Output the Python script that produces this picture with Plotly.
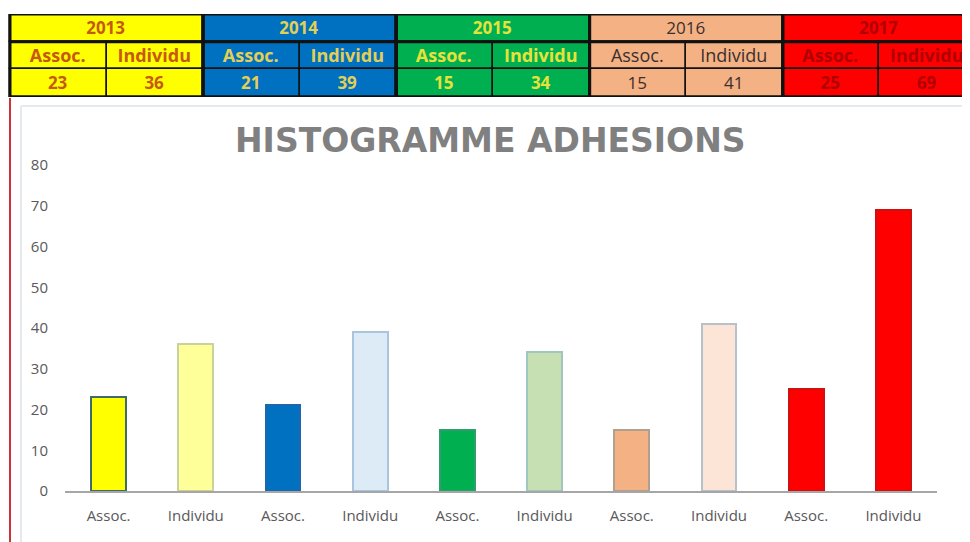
import plotly.graph_objects as go

# ---- data ----
years = ["2013", "2014", "2015", "2016", "2017"]
kinds = ["Assoc.", "Individu"]
assoc = [23, 21, 15, 15, 25]
individu = [36, 39, 34, 41, 69]
y_ticks = [0, 10, 20, 30, 40, 50, 60, 70, 80]

# styles
year_fill = ["#FFFF00", "#0070C0", "#00B050", "#F4B183", "#FF0000"]
year_text = ["#C65911", "#E3CF55", "#E6E23A", "#3B3030", "#B00000"]
year_weight = ["bold", "bold", "bold", "normal", "bold"]
bar_fill_assoc = ["#FFFF00", "#0070C0", "#00B050", "#F4B183", "#FF0000"]
bar_fill_ind = ["#FFFF99", "#DDEBF7", "#C6E0B4", "#FCE4D6", "#FF0000"]
bar_line_assoc = ["#3D6B66", "#1F66AA", "#2E9E6E", "#B0A090", "#D01010"]
bar_line_ind = ["#C9D29A", "#A9C4DE", "#9FC7BF", "#B8C0CC", "#D01010"]

W, H = 970, 542
OFF = 8  # page body margin
FONT = "Open Sans"


def px(xp):
    return (xp - OFF) / W


def py(yp):
    return (H - (yp - OFF)) / H


# interleave categories
values, labels, fills, lines = [], [], [], []
for i in range(len(years)):
    values += [assoc[i], individu[i]]
    labels += kinds
    fills += [bar_fill_assoc[i], bar_fill_ind[i]]
    lines += [bar_line_assoc[i], bar_line_ind[i]]
xpos = list(range(len(values)))

fig = go.Figure()

# ---- main bars ----
fig.add_trace(go.Bar(
    x=xpos, y=values, width=0.40,
    marker=dict(color=fills, line=dict(color=lines, width=2)),
    hoverinfo="x+y", showlegend=False,
))

# ---- table (built from bars on a second axis pair) ----
cell_fill = [year_fill[j // 2] for j in range(len(values))]
cell_text = [year_text[j // 2] for j in range(len(values))]
cell_weight = [year_weight[j // 2] for j in range(len(values))]

common = dict(xaxis="x2", yaxis="y2", textposition="inside", insidetextanchor="middle",
              constraintext="none", textangle=0, showlegend=False, hoverinfo="skip")

fig.add_trace(go.Bar(
    x=[2 * i + 1 for i in range(len(years))], y=[1] * len(years), base=[2] * len(years),
    width=[2] * len(years),
    marker=dict(color=year_fill, line=dict(color="#111111", width=1.5)),
    text=years, textfont=dict(family=FONT, size=17, color=year_text, weight=year_weight),
    **common,
))
fig.add_trace(go.Bar(
    x=[j + 0.5 for j in xpos], y=[1] * len(values), base=[1] * len(values),
    width=[1] * len(values),
    marker=dict(color=cell_fill, line=dict(color="#111111", width=1.5)),
    text=labels, textfont=dict(family=FONT, size=18, color=cell_text, weight=cell_weight),
    **common,
))
fig.add_trace(go.Bar(
    x=[j + 0.5 for j in xpos], y=[1] * len(values), base=[0] * len(values),
    width=[1] * len(values),
    marker=dict(color=cell_fill, line=dict(color="#111111", width=1.5)),
    text=[str(v) for v in values],
    textfont=dict(family=FONT, size=17, color=cell_text, weight=cell_weight),
    **common,
))

shapes = []
# thick borders around each year block and under the year row
for i in range(len(years)):
    shapes.append(dict(type="rect", xref="x2", yref="y2", x0=2 * i, x1=2 * i + 2, y0=0, y1=3,
                       line=dict(color="#111111", width=3), layer="above"))
    shapes.append(dict(type="line", xref="x2", yref="y2", x0=2 * i, x1=2 * i + 2, y0=2, y1=2,
                       line=dict(color="#111111", width=3), layer="above"))

# sheet decorations: red left border and faint chart frame
shapes.append(dict(type="line", xref="paper", yref="paper", x0=px(10), x1=px(10),
                   y0=0, y1=py(98), line=dict(color="#D0303A", width=2)))
shapes.append(dict(type="line", xref="paper", yref="paper", x0=px(21), x1=px(21),
                   y0=0, y1=py(106), line=dict(color="#DCE3E8", width=1.5)))
shapes.append(dict(type="line", xref="paper", yref="paper", x0=px(21), x1=1,
                   y0=py(106), y1=py(106), line=dict(color="#DCE3E8", width=1.5)))

fig.update_layout(
    template="none",
    width=W, height=H,
    margin=dict(l=0, r=0, t=0, b=0, autoexpand=False),
    paper_bgcolor="white", plot_bgcolor="rgba(0,0,0,0)",
    barmode="overlay", bargap=0,
    xaxis=dict(domain=[px(65), px(937)], range=[-0.5, 9.5], automargin=False,
               tickmode="array", tickvals=xpos, ticktext=labels,
               showgrid=False, zeroline=False, showline=True,
               linecolor="#A6A6A6", linewidth=2, ticks="",
               ticklabelstandoff=10,
               tickfont=dict(family=FONT, size=15, color="#595959")),
    yaxis=dict(domain=[py(491), py(165)], range=[0, 80], automargin=False,
               tickmode="array", tickvals=y_ticks,
               showgrid=False, zeroline=False, showline=False, ticks="",
               ticklabelstandoff=16,
               tickfont=dict(family=FONT, size=15, color="#595959")),
    xaxis2=dict(domain=[0, 1], range=[(OFF - 10) / 96.6, (W + OFF - 10) / 96.6], anchor="y2",
                visible=False, fixedrange=True, automargin=False),
    yaxis2=dict(domain=[py(97), py(14)], range=[0, 3], anchor="x2",
                visible=False, fixedrange=True, automargin=False),
    shapes=shapes,
    annotations=[dict(text="HISTOGRAMME ADHESIONS", xref="paper", yref="paper",
                      x=px(490), y=py(140), showarrow=False,
                      xanchor="center", yanchor="middle",
                      font=dict(family="DejaVu Sans", size=33, color="#808080", weight="bold"))],
)

fig.write_html("out.html")
